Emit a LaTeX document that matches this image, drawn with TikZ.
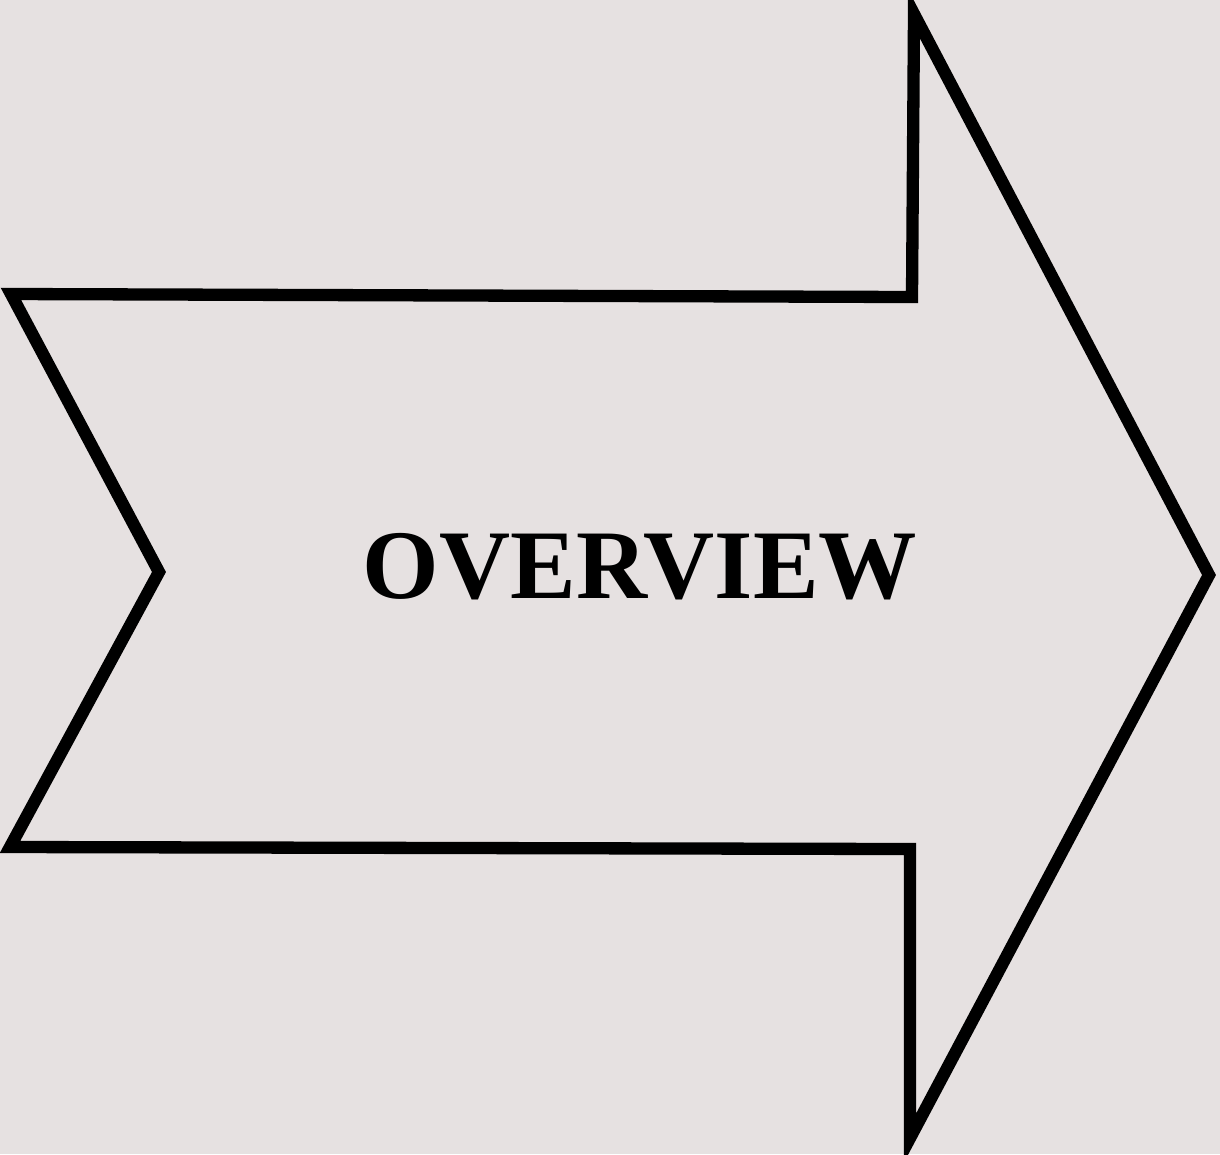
\documentclass[tikz,border=0pt]{standalone}
\usepackage{fontspec}
\setmainfont{Liberation Serif}
\definecolor{paper}{HTML}{E6E1E1}

\begin{document}
\begin{tikzpicture}[x=0.02cm, y=-0.02cm, line join=miter, miter limit=10]
  % ---- page ----
  \fill[paper] (0,0) rectangle (1220,1154);
  \useasboundingbox (0,0) rectangle (1220,1154);
  % ---- chevron arrow ----
  \draw[line width=7pt] (11,294) -- (912,297) -- (914,14) -- (1209,575)
    -- (910,1138) -- (910,849) -- (10,847) -- (159,572) -- cycle;
  % ---- label ----
  \node[font=\fontsize{56}{60}\selectfont\bfseries, inner sep=0pt] (overview) at (640,567) {OVERVIEW};
\end{tikzpicture}
\end{document}
